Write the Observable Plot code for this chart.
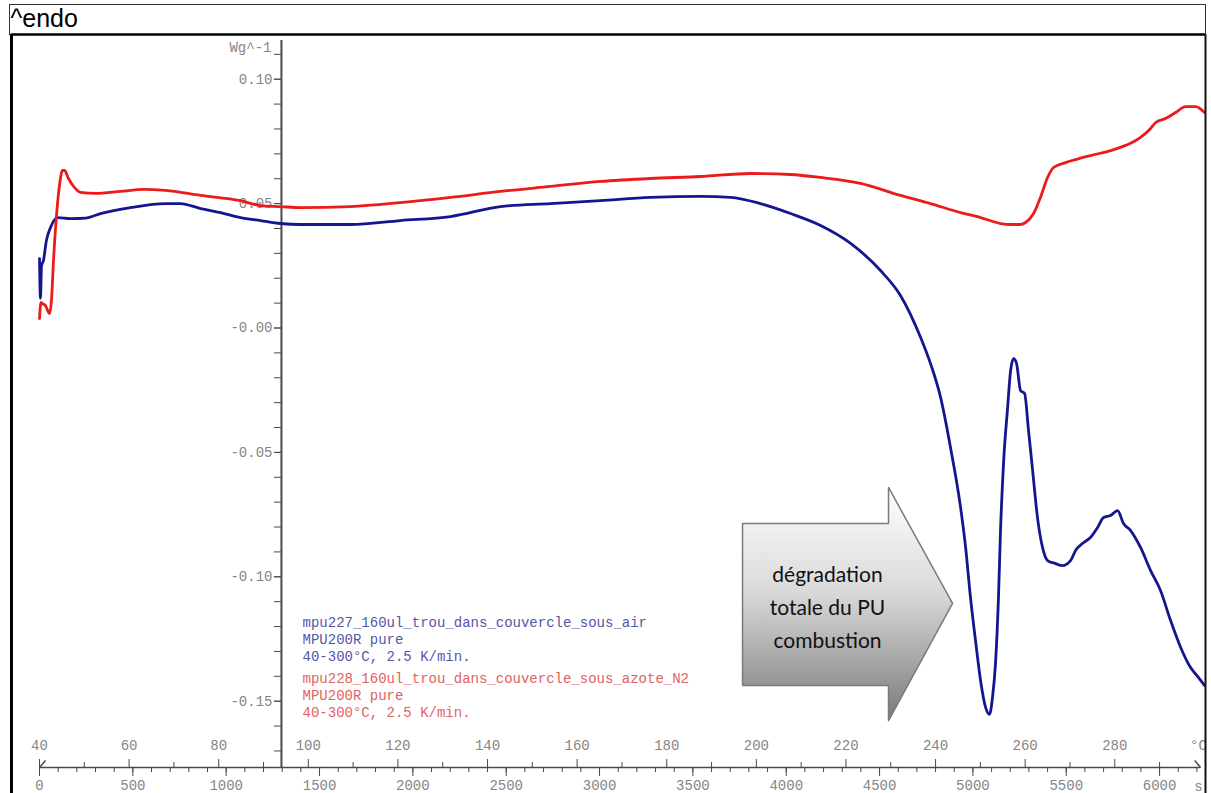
<!DOCTYPE html>
<html><head><meta charset="utf-8">
<script src="https://cdn.jsdelivr.net/npm/d3@7"></script>
<script src="https://cdn.jsdelivr.net/npm/@observablehq/plot@0.6"></script>
<style>
html,body{margin:0;padding:0;background:#fff;overflow:hidden;}
#wrap{position:relative;width:1211px;height:793px;}
#wrap svg{position:absolute;left:0;top:0;}
#hdr{position:absolute;left:9px;top:4px;width:1195px;height:30px;border:1px solid #333;border-bottom:none;}
</style></head><body><div id="wrap"><div id="hdr"></div></div>
<script>
// ---- data: DSC heat flow (W/g) vs time (s) ----
const airTime = [0,5,11,21,37,59,96,166,246,327,487,675,755,863,970,1077,1184,1291,1398,1666,1934,2202,2470,2737,3005,3273,3541,3702,3862,4023,4184,4345,4505,4612,4720,4773,4827,4880,4934,4961,4987,5014,5041,5068,5089,5105,5121,5137,5148,5164,5186,5202,5218,5234,5255,5277,5298,5320,5346,5373,5400,5443,5480,5523,5550,5587,5630,5668,5700,5737,5775,5807,5845,5898,5952,6005,6059,6113,6166,6209,6241];
const airValue = [0.0279,0.0119,0.0251,0.0271,0.0352,0.0404,0.0444,0.0440,0.0442,0.0460,0.0484,0.0500,0.0500,0.0480,0.0464,0.0444,0.0432,0.0420,0.0416,0.0416,0.0432,0.0448,0.0488,0.0500,0.0512,0.0525,0.0529,0.0525,0.0500,0.0460,0.0412,0.0340,0.0231,0.0131,-0.0038,-0.0143,-0.0279,-0.0480,-0.0721,-0.0882,-0.1083,-0.1256,-0.1417,-0.1525,-0.1553,-0.1485,-0.1349,-0.1083,-0.0814,-0.0545,-0.0320,-0.0171,-0.0123,-0.0143,-0.0251,-0.0263,-0.0412,-0.0573,-0.0762,-0.0882,-0.0935,-0.0947,-0.0955,-0.0935,-0.0894,-0.0866,-0.0842,-0.0802,-0.0762,-0.0754,-0.0734,-0.0786,-0.0814,-0.0882,-0.0975,-0.1055,-0.1176,-0.1284,-0.1365,-0.1405,-0.1437];

const n2Time = [0,8,16,32,54,64,75,91,107,123,134,155,187,220,300,434,557,675,862,1077,1184,1291,1398,1666,1934,2202,2470,2737,3005,3273,3541,3809,4023,4184,4398,4612,4773,4934,5041,5148,5202,5255,5282,5325,5362,5400,5432,5496,5550,5630,5737,5818,5898,5952,5979,6032,6086,6139,6193,6241];
const n2Value = [0.0038,0.0103,0.0098,0.0090,0.0058,0.0110,0.0271,0.0452,0.0573,0.0633,0.0633,0.0601,0.0565,0.0545,0.0541,0.0549,0.0557,0.0553,0.0533,0.0512,0.0492,0.0488,0.0484,0.0488,0.0504,0.0525,0.0549,0.0569,0.0589,0.0601,0.0609,0.0621,0.0617,0.0605,0.0581,0.0533,0.0500,0.0464,0.0444,0.0420,0.0416,0.0416,0.0424,0.0460,0.0525,0.0605,0.0645,0.0665,0.0677,0.0693,0.0713,0.0734,0.0766,0.0802,0.0826,0.0842,0.0866,0.0890,0.0890,0.0866];

// ---- axes ----
const secondsMajor = [0,500,1000,1500,2000,2500,3000,3500,4000,4500,5000,5500,6000];
const secondsMinor = d3.range(0, 6201, 100);
const tempMajor = [40,60,80,100,120,140,160,180,200,220,240,260,280];
const tempMinor = [50,70,90,110,130,150,170,190,210,230,250,270,290];
const startTemp = 40, heatingRate = 2.5; // K/min
const yMajor = [0.10,0.05,0,-0.05,-0.10,-0.15];
const yMajorLabels = ["0.10","0.05","-0.00","-0.05","-0.10","-0.15"];
const yMinor = d3.range(-17, 12).map(k => k / 100);
const yUnit = "Wg^-1";
const yAxisTime = 1296;      // where the heat-flow axis crosses the time axis (s)
const yAxisTop = 0.1156;
const xAxisLevel = -0.17665; // heat-flow level of the time axis
const axisEndTime = 6220;

// ---- legend / annotation ----
const legendAir = ["mpu227_160ul_trou_dans_couvercle_sous_air","MPU200R pure","40-300°C, 2.5 K/min."];
const legendN2 = ["mpu228_160ul_trou_dans_couvercle_sous_azote_N2","MPU200R pure","40-300°C, 2.5 K/min."];
const legendPos = {t: 1409, vAir: -0.1152, vN2: -0.1377};
const arrowT = [3766,4548,4548,4891,4548,4548,3766,3766];
const arrowV = [-0.0786,-0.0786,-0.0641,-0.1107,-0.1578,-0.1437,-0.1437,-0.0786];
const arrowText = ["dégradation","totale du PU","combustion"];
const arrowTextPos = {t: 4221, v: -0.1111};

// ---- geometry ----
const W = 1211, H = 793, mL = 11, mR = 6, mT = 34, mB = 0;
const xDomain = [-150, 6246];
const yDomain = [-0.18710, 0.11797];
const xPx = t => mL + (t - xDomain[0]) / (xDomain[1] - xDomain[0]) * (W - mL - mR);
const yPx = v => mT + (yDomain[1] - v) / (yDomain[1] - yDomain[0]) * (H - mT - mB);
const axisLinePx = yPx(xAxisLevel);
const tempToTime = T => (T - startTemp) / heatingRate * 60;
const timeToTemp = t => Math.round(t * heatingRate / 60 + startTemp);

const air = airTime.map((t, i) => ({t, v: airValue[i]}));
const n2 = n2Time.map((t, i) => ({t, v: n2Value[i]}));
const arrow = arrowT.map((t, i) => ({t, v: arrowV[i]}));
const axisEnds = [
  {t1: 0, v1: xAxisLevel, t2: 32, v2: xAxisLevel + 0.0028},
  {t1: axisEndTime - 32, v1: xAxisLevel + 0.0028, t2: axisEndTime, v2: xAxisLevel}
];

const mono = "'Liberation Mono', 'DejaVu Sans Mono', monospace";
const labelGray = "#858585";
const tickGray = "#4a4a4a";

const svg = Plot.plot({
  width: W, height: H,
  marginLeft: mL, marginRight: mR, marginTop: mT, marginBottom: mB,
  x: {domain: xDomain, label: null},
  y: {domain: yDomain, label: null},
  style: {background: "white", overflow: "visible"},
  marks: [
    // annotation arrow
    Plot.line(arrow, {x: "t", y: "v", fill: "url(#arrowGrad)", stroke: "#7a7a7a", strokeWidth: 1.5, curve: "linear-closed"}),
    Plot.text([arrowText.join("\n")], {x: () => arrowTextPos.t, y: () => arrowTextPos.v, text: d => d,
      fontFamily: "Lato, 'Open Sans', sans-serif", fontSize: 21, lineHeight: 1.57, fill: "#111", lineAnchor: "middle"}),
    // time axis (seconds, below)
    Plot.ruleY([xAxisLevel], {x1: 0, x2: axisEndTime, stroke: tickGray, strokeWidth: 1.5}),
    Plot.link(axisEnds, {x1: "t1", y1: "v1", x2: "t2", y2: "v2", stroke: tickGray, strokeWidth: 1.5}),
    Plot.axisX(secondsMinor, {anchor: "bottom", dy: axisLinePx - (H - mB), tickSize: 5, tickFormat: () => "", stroke: tickGray, label: null}),
    Plot.axisX(secondsMajor, {anchor: "bottom", dy: axisLinePx - (H - mB), tickSize: 9, tickPadding: 4, tickFormat: d => String(d),
      stroke: tickGray, fill: labelGray, fontFamily: mono, fontSize: 14, label: null}),
    // temperature axis (above)
    Plot.axisX(tempMinor.map(tempToTime), {anchor: "top", dy: axisLinePx - mT, tickSize: 6, tickFormat: () => "", stroke: tickGray, label: null}),
    Plot.axisX(tempMajor.map(tempToTime), {anchor: "top", dy: axisLinePx - mT, tickSize: 9, tickPadding: 9, tickFormat: t => String(timeToTemp(t)),
      stroke: tickGray, fill: labelGray, fontFamily: mono, fontSize: 14, label: null}),
    Plot.text([{t: axisEndTime - 12, v: xAxisLevel}], {x: "t", y: "v", text: () => "°C", dy: -22, fill: labelGray, fontFamily: mono, fontSize: 14}),
    Plot.text([{t: axisEndTime - 12, v: xAxisLevel}], {x: "t", y: "v", text: () => "s", dy: 19, fill: labelGray, fontFamily: mono, fontSize: 14}),
    // heat flow axis
    Plot.ruleX([yAxisTime], {y1: yAxisTop, y2: xAxisLevel, stroke: tickGray, strokeWidth: 2}),
    Plot.axisY(yMinor, {anchor: "left", dx: xPx(yAxisTime) - mL, tickSize: 7, tickFormat: () => "", stroke: tickGray, label: null}),
    Plot.axisY(yMajor, {anchor: "left", dx: xPx(yAxisTime) - mL, tickSize: 7, tickPadding: 2,
      tickFormat: (d, i) => yMajorLabels[yMajor.indexOf(d)], stroke: tickGray, fill: labelGray, fontFamily: mono, fontSize: 14, label: null}),
    Plot.text([{t: yAxisTime, v: 0.11}], {x: "t", y: "v", text: () => yUnit, dx: -10, dy: -7, textAnchor: "end", fill: labelGray, fontFamily: mono, fontSize: 14}),
    // curves
    Plot.line(air, {x: "t", y: "v", stroke: "#15158f", strokeWidth: 2.8, curve: "monotone-x"}),
    Plot.line(n2, {x: "t", y: "v", stroke: "#ec1b1b", strokeWidth: 2.8, curve: "monotone-x"}),
    // legend
    Plot.text([legendAir.join("\n")], {x: () => legendPos.t, y: () => legendPos.vAir, text: d => d, textAnchor: "start", lineAnchor: "top",
      lineHeight: 1.22, fill: "#5656aa", fontFamily: mono, fontSize: 14}),
    Plot.text([legendN2.join("\n")], {x: () => legendPos.t, y: () => legendPos.vN2, text: d => d, textAnchor: "start", lineAnchor: "top",
      lineHeight: 1.22, fill: "#e26262", fontFamily: mono, fontSize: 14}),
    // plot borders
    Plot.ruleY([yDomain[1]], {stroke: "#000", strokeWidth: 2.5}),
    Plot.ruleX([xDomain[0]], {stroke: "#000", strokeWidth: 3}),
    Plot.ruleX([xDomain[1]], {stroke: "#111", strokeWidth: 2}),
    // title
    Plot.text(["^endo"], {frameAnchor: "top-left", dx: -1, dy: -16, textAnchor: "start", lineAnchor: "middle",
      fontFamily: "'Liberation Sans', Arial, sans-serif", fontSize: 25, fill: "#000"})
  ]
});

const defs = d3.select(svg).insert("defs", ":first-child");
const g = defs.append("linearGradient").attr("id", "arrowGrad").attr("x1", 0).attr("y1", 0).attr("x2", 0).attr("y2", 1);
g.append("stop").attr("offset", "0%").attr("stop-color", "#ffffff");
g.append("stop").attr("offset", "45%").attr("stop-color", "#d9d9d9");
g.append("stop").attr("offset", "100%").attr("stop-color", "#7a7a7a");

document.getElementById("wrap").prepend(svg);
</script>
</body></html>
